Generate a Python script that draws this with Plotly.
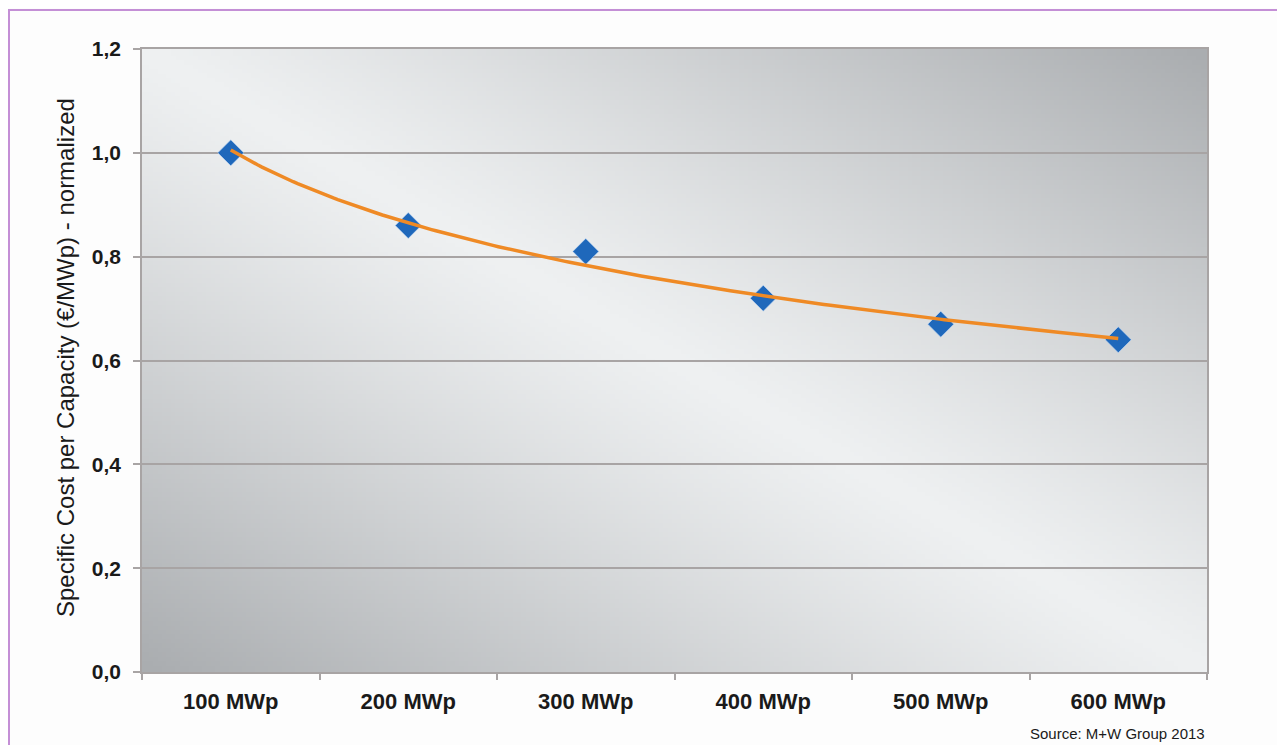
import base64, struct, zlib
import numpy as np
import plotly.graph_objects as go

# ---- data ----
categories = ["100 MWp", "200 MWp", "300 MWp", "400 MWp", "500 MWp", "600 MWp"]
capacity_mwp = [100, 200, 300, 400, 500, 600]
cost_normalized = [1.00, 0.86, 0.81, 0.72, 0.67, 0.64]
y_tickvals = [0.0, 0.2, 0.4, 0.6, 0.8, 1.0, 1.2]

# ---- background gradient (metallic look) as an inline PNG ----
def gradient_png(w=240, h=140):
    u = np.linspace(0, 1, w)[None, :]
    v = np.linspace(0, 1, h)[:, None]
    d = np.clip(np.abs(u - v), 0, 1) ** 1.15
    light = np.array([239, 241, 242], dtype=float)
    dark = np.array([170, 173, 176], dtype=float)
    img = light[None, None, :] * (1 - d[..., None]) + dark[None, None, :] * d[..., None]
    img = img.astype(np.uint8)
    raw = b"".join(b"\x00" + img[r].tobytes() for r in range(h))
    def chunk(tag, data):
        c = struct.pack(">I", len(data)) + tag + data
        return c + struct.pack(">I", zlib.crc32(tag + data) & 0xffffffff)
    png = b"\x89PNG\r\n\x1a\n" + chunk(b"IHDR", struct.pack(">IIBBBBB", w, h, 8, 2, 0, 0, 0)) \
        + chunk(b"IDAT", zlib.compress(raw, 9)) + chunk(b"IEND", b"")
    return "data:image/png;base64," + base64.b64encode(png).decode()

# ---- logarithmic trend line fitted to the data ----
coef = np.polyfit(np.log(capacity_mwp), cost_normalized, 1)
x_fit = np.linspace(capacity_mwp[0], capacity_mwp[-1], 200)
y_fit = np.polyval(coef, np.log(x_fit))

xpos = list(range(1, len(categories) + 1))
xfit_pos = 1 + (x_fit - capacity_mwp[0]) / (capacity_mwp[1] - capacity_mwp[0])

fig = go.Figure()
fig.add_trace(go.Scatter(
    x=xpos, y=cost_normalized, mode="markers",
    marker=dict(symbol="diamond", size=20, color="#1f68bb",
                line=dict(color="rgba(200,220,245,0.6)", width=1)),
    showlegend=False, hoverinfo="skip"))
fig.add_trace(go.Scatter(
    x=xfit_pos, y=y_fit, mode="lines",
    line=dict(color="#ef8a25", width=3.5),
    showlegend=False, hoverinfo="skip"))

# page body has an 8px offset; plot area in page: x 142..1207, y 49..672
PW, PH = 1065, 623
L, T = 134, 41
W, H = 1277, 737
grid_col = "#a8a4a4"
fig.update_layout(
    width=W, height=H,
    margin=dict(l=L, r=W - L - PW, t=T, b=H - T - PH),
    paper_bgcolor="#fdfdfd",
    plot_bgcolor="rgba(0,0,0,0)",
    separators=",.",
    font=dict(family="Liberation Sans, Arial, sans-serif", color="#1a1a1a"),
    images=[dict(source=gradient_png(), xref="x domain", yref="y domain",
                 x=0, y=1, sizex=1, sizey=1, sizing="stretch",
                 xanchor="left", yanchor="top", layer="below")],
    xaxis=dict(
        range=[0.5, len(categories) + 0.5],
        tickvals=xpos, ticktext=categories, ticks="",
        tickfont=dict(size=22, family="Liberation Sans, Arial", weight="bold"),
        ticklabelstandoff=9,
        showgrid=False, zeroline=False,
        showline=True, linecolor=grid_col, linewidth=1.5, mirror=True,
        minor=dict(ticks="outside", tick0=0.5, dtick=1, ticklen=6,
                   tickcolor=grid_col, tickwidth=1.5, showgrid=False),
    ),
    yaxis=dict(
        range=[0, 1.2], tickvals=y_tickvals, tickformat=".1f",
        tickfont=dict(size=21, family="Liberation Sans, Arial", weight="bold"),
        ticks="outside", ticklen=7, tickcolor=grid_col, tickwidth=1.5,
        ticklabelstandoff=8,
        showgrid=True, gridcolor=grid_col, gridwidth=1.5,
        zeroline=False,
        showline=True, linecolor=grid_col, linewidth=1.5, mirror=True,
    ),
    annotations=[
        dict(text="Specific Cost per Capacity (€/MWp) - normalized",
             xref="paper", yref="paper", x=(65 - 142) / PW, y=(672 - 358) / PH,
             textangle=-90, showarrow=False, xanchor="center", yanchor="middle",
             font=dict(size=24, family="Liberation Sans, Arial", color="#1a1a1a")),
        dict(text="Source: M+W Group 2013",
             xref="paper", yref="paper", x=1.0, y=(672 - 733) / PH,
             showarrow=False, xanchor="right", yanchor="middle",
             font=dict(size=15, family="Liberation Sans, Arial", color="#1a1a1a")),
    ],
    shapes=[dict(type="rect", xref="paper", yref="paper",
                 x0=(9 - 142) / PW, x1=(1320 - 142) / PW,
                 y0=(672 - 780) / PH, y1=(672 - 10) / PH,
                 line=dict(color="#c48fd6", width=2), fillcolor="rgba(0,0,0,0)",
                 layer="below")],
)

fig.write_html("out.html")
